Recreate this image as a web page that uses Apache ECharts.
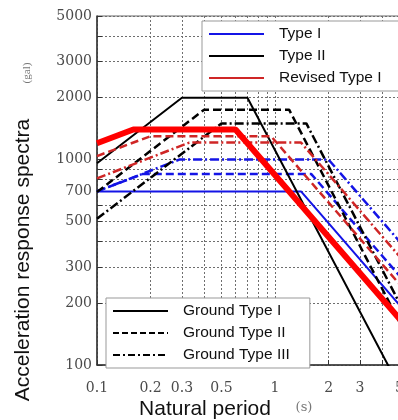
<!DOCTYPE html>
<html>
<head>
<meta charset="utf-8">
<script src="https://cdn.jsdelivr.net/npm/echarts@6/dist/echarts.min.js"></script>
<style>
  html, body { margin: 0; padding: 0; background: #fff; overflow: hidden; }
  /* the plot runs on past the right edge of the window, as in the cropped original */
  #chart { width: 453px; height: 420px; }
</style>
</head>
<body>
<div id="chart"></div>
<script>
// spectra corner points, [period (s), acceleration (gal)]
const type1Ground1 = [[0.1, 700], [1.4, 700], [10, 98]]
const type1Ground2 = [[0.1, 700], [0.18, 850], [1.6, 850], [10, 136]]
const type1Ground3 = [[0.1, 700], [0.29, 1000], [2.0, 1000], [10, 200]]
const type2Ground1 = [[0.1, 960], [0.3, 2000], [0.7, 2000], [10, 25]]
const type2Ground2 = [[0.1, 695], [0.4, 1750], [1.2, 1750], [10, 51]]
const type2Ground3 = [[0.1, 515], [0.5, 1500], [1.5, 1500], [10, 63]]
const revType1Ground1 = [[0.1, 1200], [0.16, 1400], [0.6, 1400], [10, 84]]
const revType1Ground2 = [[0.1, 1040], [0.2, 1300], [0.95, 1300], [10, 124]]
const revType1Ground3 = [[0.1, 810], [0.33, 1210], [1.4, 1210], [10, 169]]

const xTicks = [0.1, 0.2, 0.3, 0.4, 0.5, 0.6, 0.7, 0.8, 0.9, 1, 2, 3, 4, 5, 6, 7, 8, 9, 10]
const xLabels = [0.1, 0.2, 0.3, 0.5, 1, 2, 3, 5]
const yTicks = [100, 200, 300, 400, 500, 600, 700, 800, 900, 1000, 2000, 3000, 4000, 5000]
const yLabels = [100, 200, 300, 500, 700, 1000, 2000, 3000, 5000]

const typeLegend = ["Type I", "Type II", "Revised Type I"]
const groundLegend = ["Ground Type I", "Ground Type II", "Ground Type III"]

const BLUE = "#1414e6"
const BLACK = "#000"
const RED = "#cf2626"
const DASH = [8, 4]
const DASHDOT = [9, 3, 2, 3]

const chart = echarts.init(document.getElementById("chart"))

const line = (name, data, color, width, type) => ({
  name,
  type: "line",
  data,
  symbol: "none",
  clip: true,
  silent: true,
  lineStyle: { color, width, type },
  itemStyle: { color },
})

const series = [
  line("t1g1", type1Ground1, BLUE, 2, "solid"),
  line("t1g2", type1Ground2, BLUE, 2.5, DASH),
  line("t1g3", type1Ground3, BLUE, 2.5, DASHDOT),
  line("t2g1", type2Ground1, BLACK, 2, "solid"),
  line("t2g2", type2Ground2, BLACK, 2.5, DASH),
  line("t2g3", type2Ground3, BLACK, 2.5, DASHDOT),
  line("r1g2", revType1Ground2, RED, 2.5, DASH),
  line("r1g3", revType1Ground3, RED, 2.5, DASHDOT),
  line("r1g1", revType1Ground1, "#ff0000", 6, "solid"),
  // legend-only entries
  line(typeLegend[0], [], BLUE, 2.5, "solid"),
  line(typeLegend[1], [], BLACK, 2.5, "solid"),
  line(typeLegend[2], [], RED, 3, "solid"),
  line(groundLegend[0], [], BLACK, 2.5, "solid"),
  line(groundLegend[1], [], BLACK, 2.5, [6, 3]),
  line(groundLegend[2], [], BLACK, 2.5, [7, 3, 2, 3]),
]

const labelFont = { fontFamily: "DejaVu Serif", fontSize: 14, color: "#4a4a4a" }
const gridLine = { show: true, lineStyle: { color: "#6e6e6e", type: [2, 2], width: 1 } }
const legendBase = {
  orient: "vertical",
  selectedMode: false,
  itemWidth: 55,
  itemHeight: 14,
  itemGap: 6,
  backgroundColor: "#fff",
  borderColor: "#999",
  borderWidth: 1,
  borderRadius: 0,
  itemStyle: { opacity: 0 },
  textStyle: { fontFamily: "Liberation Sans", fontSize: 15.5, color: "#111", padding: [0, 0, 0, 10] },
}

chart.setOption({
  animation: false,
  grid: { left: 97, top: 16, bottom: 55, right: 0, show: true, borderColor: "#666", borderWidth: 1 },
  xAxis: {
    type: "log",
    min: 0.1,
    max: 10,
    axisLine: { show: true, lineStyle: { color: "#333", width: 1.5 } },
    axisTick: { show: true, inside: true, length: 5, customValues: xTicks, lineStyle: { color: "#333" } },
    axisLabel: { ...labelFont, margin: 16, customValues: xLabels, formatter: (v) => String(v) },
    splitLine: gridLine,
  },
  yAxis: {
    type: "log",
    min: 100,
    max: 5000,
    axisLine: { show: true, lineStyle: { color: "#333", width: 1.5 } },
    axisTick: { show: true, inside: true, length: 5, customValues: yTicks, lineStyle: { color: "#333" } },
    axisLabel: { ...labelFont, margin: 5, customValues: yLabels, formatter: (v) => String(v) },
    splitLine: gridLine,
  },
  legend: [
    { ...legendBase, data: typeLegend, left: 202, top: 21, padding: [5, 60, 5, 6] },
    { ...legendBase, data: groundLegend, left: 106, top: 298, padding: [5, 20, 5, 6] },
  ],
  graphic: [
    {
      type: "text", x: 23, y: 260, rotation: Math.PI / 2,
      style: { text: "Acceleration response spectra", fontFamily: "Liberation Sans", fontSize: 21, fill: "#111", align: "center", verticalAlign: "middle" },
    },
    {
      type: "text", x: 27, y: 73, rotation: Math.PI / 2,
      style: { text: "(gal)", fontFamily: "Liberation Serif", fontSize: 11, fill: "#777", align: "center", verticalAlign: "middle" },
    },
    {
      type: "text", x: 205, y: 409,
      style: { text: "Natural period", fontFamily: "Liberation Sans", fontSize: 21, fill: "#111", align: "center", verticalAlign: "middle" },
    },
    {
      type: "text", x: 304, y: 408,
      style: { text: "(s)", fontFamily: "DejaVu Serif", fontSize: 13, fill: "#777", align: "center", verticalAlign: "middle" },
    },
  ],
  series,
})
</script>
</body>
</html>
